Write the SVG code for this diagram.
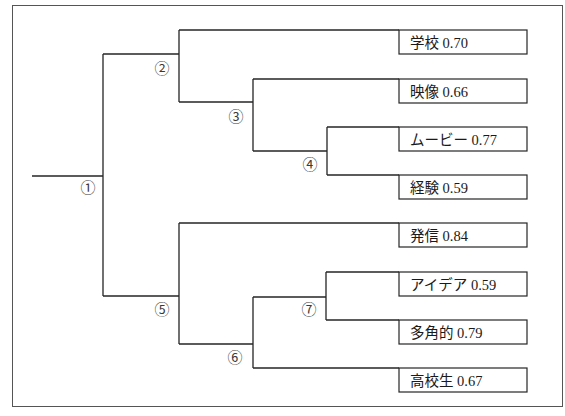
<svg xmlns="http://www.w3.org/2000/svg" width="565" height="416" viewBox="0 0 565 416">
<style>
.ln{fill:none;stroke:#262626;stroke-width:1.3}
.box{fill:#fff;stroke:#262626;stroke-width:1.2}
.lb{font-family:"Liberation Serif","Noto Sans CJK JP",serif;font-size:14.5px;fill:#1a1a1a}
.nn{font-family:"Noto Sans CJK JP","DejaVu Sans",sans-serif;font-size:15px;fill:#3a3a3a}
.frame{fill:none;stroke:#555;stroke-width:1}
</style>
<rect class="frame" x="12.5" y="5.5" width="550" height="401"/>
<g id="connectors">
<path class="ln" d="M32,176H103M103,54V296"/>
<path class="ln" d="M103,54H179M179,30V102"/>
<path class="ln" d="M179,102H253M253,79V151"/>
<path class="ln" d="M253,151H327M327,127V175"/>
<path class="ln" d="M103,296H179M179,223V344"/>
<path class="ln" d="M179,344H253M253,297V368"/>
<path class="ln" d="M253,297H326M326,272V320"/>
<path class="ln" d="M179,30H399M253,79H399M327,127H399M327,175H399M179,223H399M326,272H399M326,320H399M253,368H399"/>
</g>
<g id="n1"><text class="nn" x="88" y="193" text-anchor="middle">①</text></g>
<g id="n2"><text class="nn" x="162" y="74" text-anchor="middle">②</text></g>
<g id="n3"><text class="nn" x="236" y="122" text-anchor="middle">③</text></g>
<g id="n4"><text class="nn" x="310" y="170" text-anchor="middle">④</text></g>
<g id="n5"><text class="nn" x="162" y="315" text-anchor="middle">⑤</text></g>
<g id="n6"><text class="nn" x="235" y="363" text-anchor="middle">⑥</text></g>
<g id="n7"><text class="nn" x="309" y="315" text-anchor="middle">⑦</text></g>
<g id="leaf1"><rect class="box" x="399" y="30" width="128" height="24"/><text class="lb" x="410" y="48">学校 0.70</text></g>
<g id="leaf2"><rect class="box" x="399" y="79" width="128" height="24"/><text class="lb" x="410" y="97">映像 0.66</text></g>
<g id="leaf3"><rect class="box" x="399" y="127" width="128" height="24"/><text class="lb" x="410" y="145">ムービー 0.77</text></g>
<g id="leaf4"><rect class="box" x="399" y="175" width="128" height="24"/><text class="lb" x="410" y="193">経験 0.59</text></g>
<g id="leaf5"><rect class="box" x="399" y="223" width="128" height="24"/><text class="lb" x="410" y="241">発信 0.84</text></g>
<g id="leaf6"><rect class="box" x="399" y="272" width="128" height="24"/><text class="lb" x="410" y="290">アイデア 0.59</text></g>
<g id="leaf7"><rect class="box" x="399" y="320" width="128" height="24"/><text class="lb" x="410" y="338">多角的 0.79</text></g>
<g id="leaf8"><rect class="box" x="399" y="368" width="128" height="24"/><text class="lb" x="410" y="386">高校生 0.67</text></g>
</svg>
